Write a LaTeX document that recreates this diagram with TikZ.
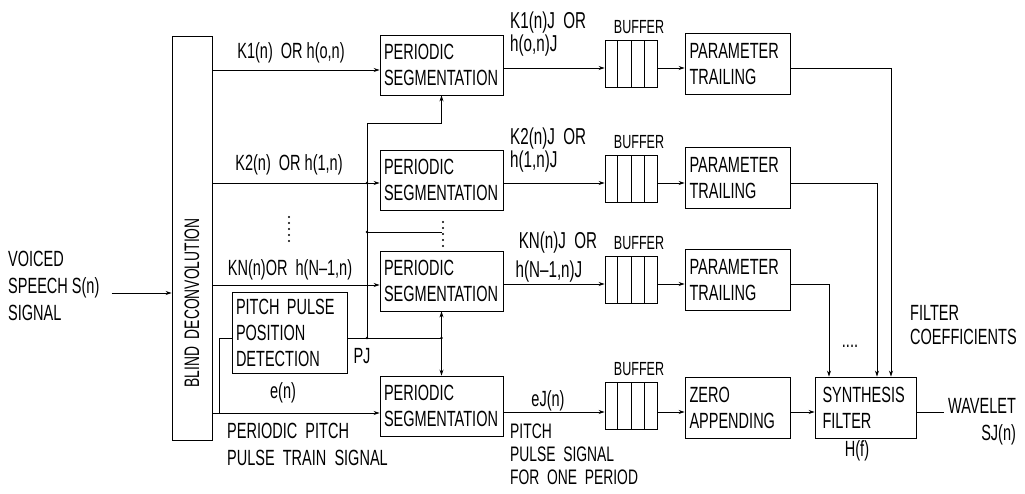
\documentclass[tikz,border=0pt]{standalone}
\usepackage{fontspec}
\setmainfont{Liberation Sans}[FakeStretch=0.66]
\usetikzlibrary{arrows.meta,positioning,calc}

\tikzset{
  blk/.style={draw, line width=0.9pt, inner sep=0pt, font=\fontsize{22}{26}\selectfont},
  segblk/.style={blk, minimum width=123pt, minimum height=60pt, text width=115pt, align=left},
  parblk/.style={blk, minimum width=105pt, minimum height=61pt, text width=96pt, align=left},
  bufblk/.style={draw, line width=0.9pt, minimum width=52pt, minimum height=47pt, inner sep=0pt},
  lbl/.style={inner sep=0pt, align=left, font=\fontsize{22}{27}\selectfont},
  sml/.style={inner sep=0pt, font=\fontsize{19}{22}\selectfont},
  wire/.style={line width=0.8pt},
  arr/.style={wire, -{Stealth[length=6pt,width=4pt]}},
}

\begin{document}
\begin{tikzpicture}[x=1pt,y=-1pt]
    \useasboundingbox (0,0) rectangle (1025,493);
    \node[blk, minimum width=40pt, minimum height=404pt] (bd) at (192,238) {};
    \node[lbl, rotate=90, font=\fontsize{21}{24}\selectfont] (bdtext) at (192,303) {BLIND~~DECONVOLUTION};
    \node[lbl, anchor=west] (voiced) at (8,286) {VOICED\\SPEECH S(n)\\SIGNAL};
%
    \node[segblk] (seg1) at (441.5,65) {PERIODIC\\SEGMENTATION};
    \node[segblk] (seg2) at (441.5,180) {PERIODIC\\SEGMENTATION};
    \node[segblk] (seg3) at (441.5,281) {PERIODIC\\SEGMENTATION};
    \node[segblk] (seg4) at (441.5,406) {PERIODIC\\SEGMENTATION};
    \node[blk, minimum width=115pt, minimum height=81pt, text width=107pt, align=left]
        (ppd) at (289.5,333) {PITCH PULSE\\POSITION\\DETECTION};
%
    \foreach \n/\y in {1/64,2/179,3/280,4/406} {
        \node[bufblk] (buf\n) at (631,\y) {};
        \foreach \k in {1,2,3}
            \draw[wire] ($(buf\n.north west)!\k/4!(buf\n.north east)$)
                -- ($(buf\n.south west)!\k/4!(buf\n.south east)$);
        \node[sml, above=6pt of buf\n, xshift=8pt] (buflbl\n) {BUFFER};
    }
%
    \node[parblk] (par1) at (737.5,64) {PARAMETER\\TRAILING};
    \node[parblk] (par2) at (737.5,178) {PARAMETER\\TRAILING};
    \node[parblk] (par3) at (737.5,280) {PARAMETER\\TRAILING};
    \node[parblk] (zero) at (737.5,407.5) {ZERO\\APPENDING};
    \node[blk, minimum width=101pt, minimum height=61pt, text width=86pt, align=left]
        (synth) at (865.5,407.5) {SYNTHESIS\\FILTER};
%
    \node[lbl] (k1lbl) at (291,53) {K1(n)~~OR h(o,n)};
    \node[lbl] (k2lbl) at (289,165) {K2(n)~~OR h(1,n)};
    \node[lbl] (knlbl) at (290,270) {KN(n)OR~~h(N--1,n)};
    \node[lbl] (enlbl) at (283,393) {e(n)};
    \node[lbl] (pjlbl) at (362,356) {PJ};
    \node[lbl, anchor=north west] (ptrain) at (227,423) {PERIODIC~~PITCH\\PULSE~~TRAIN~~SIGNAL};
    \node[lbl, anchor=north west, font=\fontsize{23}{23}\selectfont] (o1lbl) at (510,12) {K1(n)J~~OR\\h(o,n)J};
    \node[lbl, anchor=north west, font=\fontsize{23}{23}\selectfont] (o2lbl) at (510,128) {K2(n)J~~OR\\h(1,n)J};
    \node[lbl, font=\fontsize{23}{23}\selectfont] (o3lbl) at (558,243) {KN(n)J~~OR};
    \node[lbl, font=\fontsize{23}{23}\selectfont] (o3lblb) at (549,272) {h(N--1,n)J};
    \node[lbl] (ejlbl) at (548,401) {eJ(n)};
    \node[lbl, anchor=north west, font=\fontsize{21}{23}\selectfont] (ppsig) at (510,424) {PITCH\\PULSE~~SIGNAL\\FOR~~ONE~~PERIOD};
    \node[lbl] (hf) at (857,451) {H(f)};
    \node[lbl, anchor=north west, font=\fontsize{22}{24}\selectfont] (fclbl) at (910,305) {FILTER\\COEFFICIENTS};
    \node[lbl] (dots4) at (850,346) {....};
    \node[lbl, anchor=north west, align=right] (wave) at (948,398) {WAVELET\\SJ(n)};
%
    \coordinate (in) at (0,293);
    \coordinate (k1) at (0,70);
    \coordinate (k2) at (0,183);
    \coordinate (kn) at (0,285);
    \coordinate (en) at (0,413);
    \coordinate (pj) at (0,338);
    \coordinate (pjtop) at (367,123);
    \coordinate (dotbus) at (367,232);
    \coordinate (eb) at (219,413);
    \draw[arr] ([xshift=12pt]voiced.east |- in) -- (bd.west |- in);
    \draw[arr] (bd.east |- k1) -- (seg1.west |- k1);
    \draw[arr] (bd.east |- k2) -- (seg2.west |- k2);
    \draw[arr] (bd.east |- kn) -- (seg3.west |- kn);
    \draw[arr] (bd.east |- en) -- (seg4.west |- en);
    \draw[wire] (eb) |- (ppd.west |- pj);
    \draw[arr] (pjtop) -| (seg1.south);
    \draw[wire] (pjtop) -- (pjtop |- pj);
    \draw[wire] (dotbus) -- (seg2.south |- dotbus);
    \draw[wire] (ppd.east |- pj) -- (seg3.south |- pj);
    \draw[arr] (seg3.south |- pj) -- (seg3.south);
    \draw[arr] (seg3.south |- pj) -- (seg4.north);
    \foreach \p in {(367,183),(367,232),(367,338),(441.5,338)}
        \fill \p circle (1.3pt);
    \foreach \y in {217,223,229,235,241}
        \fill (289,\y) circle (1.1pt);
    \foreach \y in {222,228,234,240,246}
        \fill (443,\y) circle (1.1pt);
%
    \coordinate (r1) at (0,68);
    \coordinate (r2) at (0,183);
    \coordinate (r3) at (0,284);
    \coordinate (r4) at (0,412);
    \foreach \n in {1,2,3} {
        \draw[arr] (seg\n.east |- r\n) -- (buf\n.west |- r\n);
        \draw[arr] (buf\n.east |- r\n) -- (par\n.west |- r\n);
    }
    \draw[arr] (seg4.east |- r4) -- (buf4.west |- r4);
    \draw[arr] (buf4.east |- r4) -- (zero.west |- r4);
    \draw[arr] (zero.east |- r4) -- (synth.west |- r4);
    \draw[wire] (synth.east |- r4) -- ([xshift=-4pt]wave.west |- r4);
%
    \coordinate (f1) at (891,0);
    \coordinate (f2) at (877,0);
    \coordinate (f3) at (829,0);
    \draw[arr] (par1.east |- r1) -| (f1 |- synth.north);
    \draw[arr] (par2.east |- r2) -| (f2 |- synth.north);
    \draw[arr] (par3.east |- r3) -| (f3 |- synth.north);
\end{tikzpicture}
\end{document}
